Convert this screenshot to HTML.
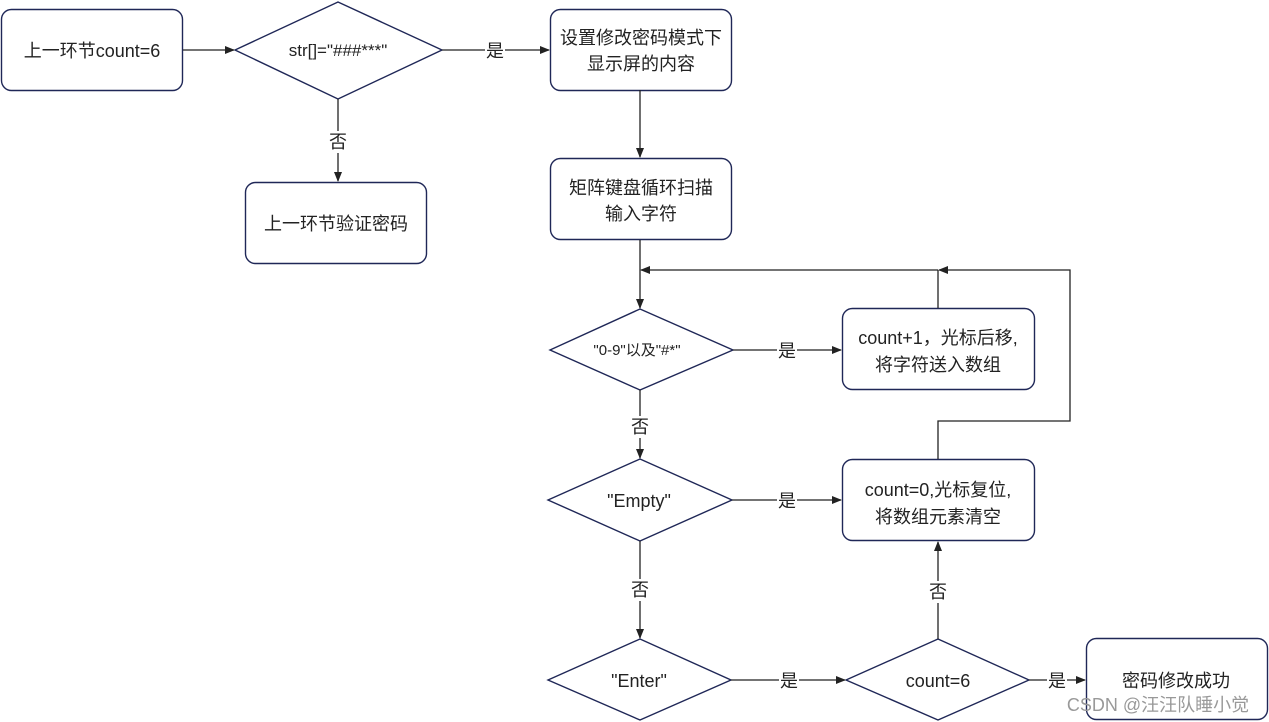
<!DOCTYPE html>
<html><head><meta charset="utf-8"><style>
html,body{margin:0;padding:0;background:#fff;}
svg{display:block;}
text{font-family:"Liberation Sans","Noto Sans CJK SC",sans-serif;fill:#222;}
</style></head><body>
<svg width="1269" height="722" viewBox="0 0 1269 722" xmlns="http://www.w3.org/2000/svg">
<defs><marker id="a" markerWidth="10" markerHeight="10" refX="9" refY="5" orient="auto" markerUnits="userSpaceOnUse"><path d="M0,1 L10,5 L0,9 z" fill="#222"/></marker></defs>
<g fill="#fff" stroke="#1f2757" stroke-width="1.4">
<rect x="1.5" y="9.5" width="181" height="81" rx="10"/>
<polygon points="235,50 338,2 442,50 338,99"/>
<rect x="245.5" y="182.5" width="181" height="81" rx="10"/>
<rect x="550.5" y="9.5" width="181" height="81" rx="10"/>
<rect x="550.5" y="158.5" width="181" height="81" rx="10"/>
<polygon points="550,350 640,309 733,350 640,390"/>
<rect x="842.5" y="308.5" width="192" height="81" rx="10"/>
<polygon points="548,500 640,459 732,500 640,541"/>
<rect x="842.5" y="459.5" width="192" height="81" rx="10"/>
<polygon points="548,680 640,639 731,680 640,720"/>
<polygon points="846,680 938,639 1029,680 938,720"/>
<rect x="1086.5" y="638.5" width="181" height="81" rx="10"/>
</g>
<g stroke="#222" stroke-width="1.3" fill="none">
<line x1="183" y1="50" x2="234" y2="50" marker-end="url(#a)"/>
<line x1="338" y1="99" x2="338" y2="181" marker-end="url(#a)"/>
<line x1="442" y1="50" x2="549" y2="50" marker-end="url(#a)"/>
<line x1="640" y1="90" x2="640" y2="157" marker-end="url(#a)"/>
<line x1="640" y1="240" x2="640" y2="308" marker-end="url(#a)"/>
<line x1="938" y1="308" x2="938" y2="270"/>
<line x1="938" y1="270" x2="641" y2="270" marker-end="url(#a)"/>
<polyline points="938,459 938,421 1070,421 1070,270 939,270" marker-end="url(#a)"/>
<line x1="733" y1="350" x2="841" y2="350" marker-end="url(#a)"/>
<line x1="640" y1="390" x2="640" y2="458" marker-end="url(#a)"/>
<line x1="732" y1="500" x2="841" y2="500" marker-end="url(#a)"/>
<line x1="640" y1="541" x2="640" y2="638" marker-end="url(#a)"/>
<line x1="731" y1="680" x2="845" y2="680" marker-end="url(#a)"/>
<line x1="938" y1="639" x2="938" y2="542" marker-end="url(#a)"/>
<line x1="1029" y1="680" x2="1085" y2="680" marker-end="url(#a)"/>
</g>
<g fill="#fff">
<rect x="328" y="131" width="20" height="22"/>
<rect x="485" y="40" width="20" height="22"/>
<rect x="777" y="340" width="20" height="22"/>
<rect x="630" y="416" width="20" height="22"/>
<rect x="777" y="490" width="20" height="22"/>
<rect x="630" y="579" width="20" height="22"/>
<rect x="779" y="670" width="20" height="22"/>
<rect x="928" y="581" width="20" height="22"/>
<rect x="1047" y="670" width="20" height="22"/>
</g>
<g font-size="18" text-anchor="middle">
<text x="92" y="57">上一环节count=6</text>
<text x="338" y="56" font-size="17">str[]="###***"</text>
<text x="338" y="148">否</text>
<text x="336" y="230">上一环节验证密码</text>
<text x="495" y="57">是</text>
<text x="641" y="44">设置修改密码模式下</text>
<text x="641" y="70">显示屏的内容</text>
<text x="641" y="194">矩阵键盘循环扫描</text>
<text x="641" y="220">输入字符</text>
<text x="637" y="355" font-size="15">"0-9"以及"#*"</text>
<text x="787" y="357">是</text>
<text x="938" y="344">count+1，光标后移,</text>
<text x="938" y="371">将字符送入数组</text>
<text x="640" y="433">否</text>
<text x="639" y="507">"Empty"</text>
<text x="787" y="507">是</text>
<text x="938" y="496">count=0,光标复位,</text>
<text x="938" y="523">将数组元素清空</text>
<text x="640" y="596">否</text>
<text x="639" y="687">"Enter"</text>
<text x="789" y="687">是</text>
<text x="938" y="687">count=6</text>
<text x="938" y="598">否</text>
<text x="1057" y="687">是</text>
<text x="1176" y="687">密码修改成功</text>
</g>
<text x="1158" y="711" font-size="18" text-anchor="middle" style="fill:#999">CSDN @汪汪队睡小觉</text>
</svg>
</body></html>
